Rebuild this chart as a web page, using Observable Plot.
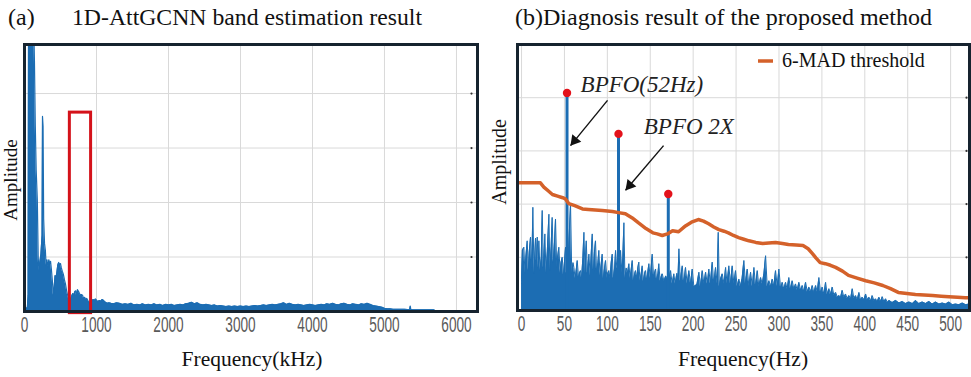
<!DOCTYPE html>
<html><head><meta charset="utf-8">
<script src="https://cdn.jsdelivr.net/npm/d3@7"></script>
<script src="https://cdn.jsdelivr.net/npm/@observablehq/plot@0.6"></script>
<style>
body{margin:0;background:#fff;}
#root{position:relative;width:971px;height:377px;overflow:hidden;background:#fff;}
#root > svg{position:absolute;top:0;}
</style></head><body><div id="root"></div>
<script>
// ---------- data: panel (a) band estimation spectrum (kHz, amplitude in grid units) ----------
const ticksA = [0,1000,2000,3000,4000,5000,6000];
const gridYA = [1,2,3,4];
const specA = [[0,0],[40,0.08],[50,0.3],[56,5.5],[125,5.5],[138,4.6],[150,3.4],[162,2.6],[178,2.05],[190,1.0],[200,0.75],[212,0.9],[228,1.05],[244,1.4],[250,3.58],[258,3.4],[266,1.7],[278,1.25],[290,1.12],[300,0.85],[312,0.95],[325,0.82],[338,0.95],[350,0.88],[362,0.92],[375,0.75],[388,0.55],[400,0.3],[412,0.45],[425,0.66],[438,0.62],[450,0.72],[462,0.85],[475,0.9],[488,0.86],[500,0.88],[512,0.8],[525,0.74],[540,0.68],[555,0.58],[570,0.5],[585,0.38],[598,0.3],[612,0.24],[626,0.2],[640,0.22],[655,0.28],[670,0.33],[684,0.3],[698,0.36],[710,0.38],[722,0.3],[736,0.4],[750,0.37],[764,0.33],[778,0.3],[792,0.31],[806,0.3],[820,0.24],[835,0.26],[850,0.22],[865,0.24],[880,0.2],[895,0.18],[910,0.15],[925,0.17],[940,0.2],[955,0.22],[970,0.2],[985,0.23],[1000,0.21],[1020,0.18],[1040,0.2],[1060,0.19],[1080,0.22],[1100,0.2],[1125,0.17],[1150,0.15],[1175,0.16],[1200,0.15],[1240,0.14],[1280,0.16],[1320,0.15],[1360,0.13],[1400,0.14],[1440,0.13],[1480,0.15],[1520,0.12],[1560,0.13],[1600,0.12],[1640,0.14],[1680,0.12],[1720,0.13],[1760,0.12],[1800,0.14],[1840,0.12],[1880,0.13],[1920,0.11],[1960,0.13],[2000,0.12],[2040,0.13],[2080,0.11],[2120,0.12],[2160,0.13],[2200,0.12],[2240,0.14],[2280,0.15],[2320,0.17],[2360,0.14],[2400,0.16],[2440,0.13],[2480,0.12],[2520,0.13],[2560,0.12],[2600,0.11],[2640,0.12],[2680,0.1],[2720,0.11],[2760,0.1],[2800,0.09],[2840,0.1],[2880,0.09],[2920,0.1],[2960,0.09],[3000,0.1],[3040,0.09],[3080,0.1],[3120,0.09],[3160,0.1],[3200,0.11],[3240,0.1],[3280,0.11],[3320,0.12],[3360,0.11],[3400,0.12],[3440,0.13],[3480,0.12],[3520,0.13],[3560,0.14],[3600,0.16],[3640,0.13],[3680,0.15],[3720,0.13],[3760,0.12],[3800,0.13],[3840,0.12],[3880,0.11],[3920,0.12],[3960,0.13],[4000,0.12],[4040,0.11],[4080,0.12],[4120,0.13],[4160,0.12],[4200,0.14],[4240,0.13],[4280,0.15],[4320,0.13],[4360,0.12],[4400,0.14],[4440,0.15],[4480,0.13],[4520,0.12],[4560,0.14],[4600,0.13],[4640,0.12],[4680,0.14],[4720,0.13],[4760,0.15],[4800,0.13],[4840,0.11],[4880,0.1],[4920,0.09],[4960,0.08],[5000,0.06],[5040,0.05],[5080,0.05],[5120,0.04],[5160,0.04],[5200,0.04],[5240,0.04],[5280,0.04],[5320,0.035],[5350,0.035],[5358,0.1],[5366,0.035],[5400,0.03],[5450,0.03],[5500,0.03],[5550,0.03],[5600,0.03],[5650,0.03],[5690,0.03],[5700,0.01],[6292,0.01]];
const boxA = [{f1:630, f2:925, a1:-0.03, a2:3.65}];

// ---------- data: panel (b) envelope spectrum (Hz, amplitude) ----------
const ticksB = [0,50,100,150,200,250,300,350,400,450,500];
const gridYB = [1,2,3,4];
const specB = [[0,0.6],[1,1.13],[2.7,1.19],[4,0.7],[5,1.0],[6.6,1.31],[8,0.75],[9,1.1],[10.5,1.38],[12,0.8],[13.2,1.94],[14.5,0.7],[16.3,1.36],[17.5,0.9],[18.3,1.38],[19.5,0.8],[20.2,1.31],[21.5,0.75],[23,1.0],[24.1,1.88],[25.5,0.8],[27.2,1.44],[28.5,0.7],[30,1.1],[31.9,1.81],[33,0.75],[34.5,1.2],[35.7,1.75],[37,0.9],[38.5,1.3],[39.6,1.72],[41,0.8],[42,1.0],[43.5,1.19],[45,0.7],[46,0.9],[47.4,1.0],[49,0.65],[50,0.9],[51.3,1.19],[52,0.7],[54,0.8],[55,1.2],[57.1,2.0],[58.5,0.7],[60,0.9],[61,0.81],[62.5,0.6],[64,0.8],[64.9,0.94],[66.5,0.6],[67.5,0.7],[68.8,0.75],[70,0.6],[71.5,1.0],[72.7,1.47],[74,0.7],[75.4,1.31],[76.8,0.7],[78.5,1.06],[80,0.65],[81,1.0],[82.4,1.44],[84,0.7],[85,1.1],[86.2,1.31],[87.5,0.7],[89,0.9],[90.1,1.13],[91.5,0.65],[93,0.9],[94,1.06],[95.5,0.6],[96.8,0.8],[97.9,0.94],[99.5,0.6],[100.5,0.7],[101.8,0.75],[103,0.6],[104.5,0.9],[105.7,1.06],[107,0.6],[108.5,0.8],[109.6,1.13],[111,0.8],[114.5,0.8],[115.4,1.13],[117,0.7],[118,1.0],[119.3,1.65],[120.5,0.6],[122,0.8],[123.5,0.7],[125.1,0.88],[126.5,0.6],[128,0.8],[129,0.94],[130.5,0.55],[132,0.7],[132.9,0.75],[134.5,0.6],[135.5,0.8],[136.7,0.91],[138,0.55],[139.5,0.7],[140.6,0.84],[142,0.55],[143.5,0.7],[144.5,0.75],[146,0.55],[147,0.7],[148.4,0.88],[150,0.6],[151,0.8],[152.3,1.06],[154,0.6],[155,0.7],[156.2,0.78],[157.5,0.55],[159,0.7],[160,0.88],[161.5,0.55],[163,0.65],[164,0.69],[166,0.55],[168,0.65],[170,0.6],[172,0.6],[173.7,0.75],[175.5,0.5],[177.5,0.69],[179,0.5],[181,0.7],[182.3,0.6],[183.4,1.16],[185,0.55],[187.3,0.84],[189,0.5],[191.1,0.81],[193,0.5],[195,0.75],[197,0.5],[198.9,0.78],[200.8,0.45],[202.8,0.47],[204.5,0.5],[206.7,0.72],[208.5,0.45],[210.6,0.75],[212.5,0.5],[214.5,0.72],[216.5,0.5],[218.3,0.78],[220,0.5],[222.2,0.91],[224,0.5],[226.1,0.81],[228,0.5],[229.2,1.47],[230.5,0.45],[232,0.6],[233.9,0.69],[236,0.5],[237.8,0.81],[239.5,0.5],[241.6,0.84],[243.5,0.5],[245.5,0.84],[247.5,0.5],[249.4,0.75],[251.3,0.45],[253.3,0.59],[255,0.45],[257,0.6],[259.1,0.94],[261,0.5],[263,0.78],[265,0.45],[266.9,0.72],[269,0.45],[270.8,0.81],[272.8,0.45],[274.7,0.75],[276.5,0.45],[278.6,0.62],[280.5,0.5],[282.5,0.7],[284.4,1.03],[286.3,0.45],[288.3,0.56],[290.2,0.45],[292.2,0.59],[294,0.45],[296,0.75],[298,0.45],[299.9,0.78],[302,0.4],[303.8,0.53],[305.7,0.4],[307.7,0.53],[309.5,0.4],[311.5,0.62],[313.5,0.4],[315.4,0.56],[317.4,0.4],[319.3,0.5],[321.3,0.38],[323.2,0.53],[325.2,0.38],[327.2,0.47],[329,0.35],[331,0.53],[333,0.35],[334.9,0.44],[336.8,0.35],[338.8,0.47],[340.7,0.33],[342.7,0.47],[344.6,0.35],[346.5,0.62],[348.5,0.33],[350.4,0.44],[352.4,0.3],[354.3,0.53],[356.2,0.3],[358.2,0.41],[360,0.3],[362.1,0.44],[364,0.28],[366,0.34],[368,0.25],[369.9,0.28],[371.8,0.25],[373.7,0.38],[375.7,0.24],[377.6,0.31],[379.5,0.22],[381.5,0.28],[383.5,0.22],[385.4,0.41],[387.3,0.22],[389.3,0.28],[391.2,0.2],[393.2,0.34],[395,0.2],[397.1,0.25],[399,0.2],[401,0.31],[403,0.2],[404.9,0.25],[406.8,0.18],[408.7,0.28],[410.7,0.18],[412.6,0.22],[414.5,0.17],[416.5,0.25],[418.5,0.17],[420.4,0.26],[422.3,0.16],[424.3,0.22],[426.3,0.15],[428.2,0.19],[432,0.15],[436,0.19],[440,0.14],[443.7,0.17],[447.5,0.13],[451.5,0.16],[455.5,0.13],[459.3,0.19],[463,0.13],[467,0.16],[471,0.13],[474.8,0.17],[478.7,0.12],[482.6,0.16],[486.5,0.12],[490.4,0.14],[494.3,0.12],[498.1,0.16],[502,0.11],[505.9,0.12],[509.8,0.11],[513.7,0.14],[517.6,0.11],[521.5,0.12]];
const peaksB = [[53,4.09],[113,3.32],[171,2.19]];
const thrB = [[-5,2.40],[22,2.40],[26,2.32],[31,2.25],[36,2.18],[42,2.15],[48,2.12],[51,2.10],[55,2.01],[62,1.97],[71,1.91],[78,1.90],[86,1.89],[94,1.88],[100,1.87],[106,1.86],[113,1.84],[121,1.82],[129,1.74],[136,1.65],[145,1.54],[153,1.46],[158,1.44],[164,1.41],[170,1.44],[176,1.50],[183,1.48],[191,1.59],[198,1.66],[206,1.71],[212,1.68],[218,1.63],[224,1.57],[230,1.52],[236,1.49],[241,1.46],[247,1.41],[253,1.37],[259,1.34],[265,1.31],[273,1.28],[281,1.26],[288,1.27],[296,1.28],[304,1.26],[311,1.24],[320,1.23],[328,1.22],[334,1.16],[339,1.07],[343,0.99],[348,0.90],[354,0.88],[360,0.85],[366,0.81],[374,0.74],[381,0.66],[391,0.61],[401,0.56],[411,0.52],[421,0.47],[430,0.41],[439,0.34],[449,0.32],[459,0.30],[469,0.29],[479,0.28],[489,0.27],[498,0.26],[508,0.25],[517,0.24],[523,0.24]];
const labelsB = [{f:68.8, a:4.1, t:"BPFO(52Hz)"},{f:142.5, a:3.32, t:"BPFO 2X"}];
const arrowsB = [{f1:100.2, a1:3.95, f2:57.1, a2:3.10},{f1:165.5, a1:3.10, f2:121.2, a2:2.26}];

// ---------- style ----------
const blue = "#1c6db3", orange = "#d4612a", red = "#e3121b", frameCol = "#16232f", gridCol = "#d9d9d9";
const tickFont = {fontFamily:'"Liberation Sans", Arial, sans-serif', fontSize:"22px", background:"transparent", color:"#5a5a5a", overflow:"visible"};
const root = document.getElementById("root");

function condense(svg, k) {
  svg.querySelectorAll('g[aria-label="x-axis tick label"] text').forEach(t => {
    const tr = t.getAttribute("transform");
    if (tr) t.setAttribute("transform", tr + ` scale(${k},1)`);
    else { const x = +t.getAttribute("x") || 0; t.removeAttribute("x"); t.setAttribute("transform", `translate(${x},0) scale(${k},1)`); }
  });
}

// ---------- panel (a) ----------
const dataA = specA.map(([f,a]) => ({f,a}));
const chartA = Plot.plot({
  width: 490, height: 377,
  marginLeft: 24, marginRight: 13, marginTop: 44, marginBottom: 66,
  style: tickFont,
  x: {domain: [0, 6292], label: null},
  y: {domain: [0, 4.9], axis: null, label: null},
  marks: [
    Plot.gridX(ticksA, {stroke: gridCol, strokeOpacity: 1}),
    Plot.gridY(gridYA, {stroke: gridCol, strokeOpacity: 1}),
    Plot.areaY(dataA, {x: "f", y: "a", fill: blue, clip: true}),
    Plot.lineY(dataA, {x: "f", y: "a", stroke: blue, strokeWidth: 1.2, clip: true}),
    Plot.rect(boxA, {x1: "f1", x2: "f2", y1: "a1", y2: "a2", stroke: "#d4121a", strokeWidth: 3, fill: "none"}),
    Plot.dot(gridYA, {y: d => d, frameAnchor: "right", dx: -6, r: 1.1, fill: "#333"}),
    Plot.axisX(ticksA, {tickSize: 0, tickPadding: 5, tickFormat: d => String(d), label: null, fill: "#5a5a5a"}),
    Plot.frame({stroke: frameCol, strokeWidth: 3})
  ]
});
chartA.style.left = "0px";
condense(chartA, 0.62);
root.appendChild(chartA);

// ---------- panel (b) ----------
const WB = 481, mlB = 27, mrB = 2, mtB = 44, mbB = 67;
const domXB = [-4.7, 522], domYB = [0, 5];
const kx = (WB - mlB - mrB) / (domXB[1] - domXB[0]);
const ky = (377 - mtB - mbB) / (domYB[1] - domYB[0]);
const dataB = specB.map(([f,a]) => ({f,a}));
const dataThr = thrB.map(([f,a]) => ({f,a}));
const dataPk = peaksB.map(([f,a]) => ({f,a}));
const heads = arrowsB.map(d => {
  const dx = (d.f2 - d.f1) * kx, dy = -(d.a2 - d.a1) * ky;
  const len = Math.hypot(dx, dy), ux = dx / len, uy = dy / len;
  const back = 6.5;
  return {f: d.f2 - back * ux / kx, a: d.a2 + back * uy / ky, rot: Math.atan2(dx, -dy) * 180 / Math.PI};
});
const chartB = Plot.plot({
  width: WB, height: 377,
  marginLeft: mlB, marginRight: mrB, marginTop: mtB, marginBottom: mbB,
  style: tickFont,
  x: {domain: domXB, label: null},
  y: {domain: domYB, axis: null, label: null},
  marks: [
    Plot.gridX(ticksB, {stroke: gridCol, strokeOpacity: 1}),
    Plot.gridY(gridYB, {stroke: gridCol, strokeOpacity: 1}),
    Plot.areaY(dataB, {x: "f", y: "a", fill: blue, clip: true}),
    Plot.lineY(dataB, {x: "f", y: "a", stroke: blue, strokeWidth: 1, clip: true}),
    Plot.ruleX(dataPk, {x: "f", y1: 0, y2: "a", stroke: blue, strokeWidth: 3}),
    Plot.line(dataThr, {x: "f", y: "a", stroke: orange, strokeWidth: 3.5, clip: true}),
    Plot.dot(dataPk, {x: "f", y: "a", r: 4.2, fill: red}),
    Plot.link(arrowsB, {x1: "f1", y1: "a1", x2: "f2", y2: "a2", stroke: "#111", strokeWidth: 1.4}),
    Plot.dot(heads, {x: "f", y: "a", symbol: "triangle", r: 4.3, fill: "#111", rotate: "rot"}),
    Plot.text(labelsB, {x: "f", y: "a", text: "t", textAnchor: "start", lineAnchor: "bottom", fontFamily: '"Liberation Serif", "Times New Roman", serif', fontStyle: "italic", fontSize: 23, fill: "#222"}),
    Plot.dot(gridYB, {y: d => d, frameAnchor: "right", dx: -3, r: 1.1, fill: "#333"}),
    Plot.axisX(ticksB, {tickSize: 0, tickPadding: 5, tickFormat: d => String(d), label: null, fill: "#5a5a5a"}),
    Plot.frame({stroke: frameCol, strokeWidth: 3})
  ]
});
chartB.style.left = "490px";
condense(chartB, 0.62);
root.appendChild(chartB);

// ---------- titles, axis labels, legend ----------
const ov = d3.select(root).append("svg")
  .attr("width", 971).attr("height", 377)
  .style("left", "0px").style("pointer-events", "none")
  .attr("font-family", '"Liberation Serif", "Times New Roman", serif').attr("fill", "#111");
ov.append("text").attr("x", 8).attr("y", 25).attr("font-size", 24).text("(a)");
ov.append("text").attr("x", 72).attr("y", 25).attr("font-size", 23.5)
  .attr("textLength", 350).attr("lengthAdjust", "spacingAndGlyphs").text("1D-AttGCNN band estimation result");
ov.append("text").attr("x", 515).attr("y", 25).attr("font-size", 24)
  .attr("textLength", 417).attr("lengthAdjust", "spacingAndGlyphs").text("(b)Diagnosis result of the proposed method");
ov.append("text").attr("transform", "translate(17,180) rotate(-90)").attr("text-anchor", "middle").attr("font-size", 19).text("Amplitude");
ov.append("text").attr("transform", "translate(506,162) rotate(-90)").attr("text-anchor", "middle").attr("font-size", 20).text("Amplitude");
ov.append("text").attr("x", 252).attr("y", 366).attr("text-anchor", "middle").attr("font-size", 21.5).text("Frequency(kHz)");
ov.append("text").attr("x", 743).attr("y", 366).attr("text-anchor", "middle").attr("font-size", 21.5).text("Frequency(Hz)");
ov.append("line").attr("x1", 758).attr("x2", 773).attr("y1", 61).attr("y2", 61).attr("stroke", orange).attr("stroke-width", 3.5);
ov.append("text").attr("x", 782).attr("y", 67).attr("font-size", 20).text("6-MAD threshold");
</script></body></html>
